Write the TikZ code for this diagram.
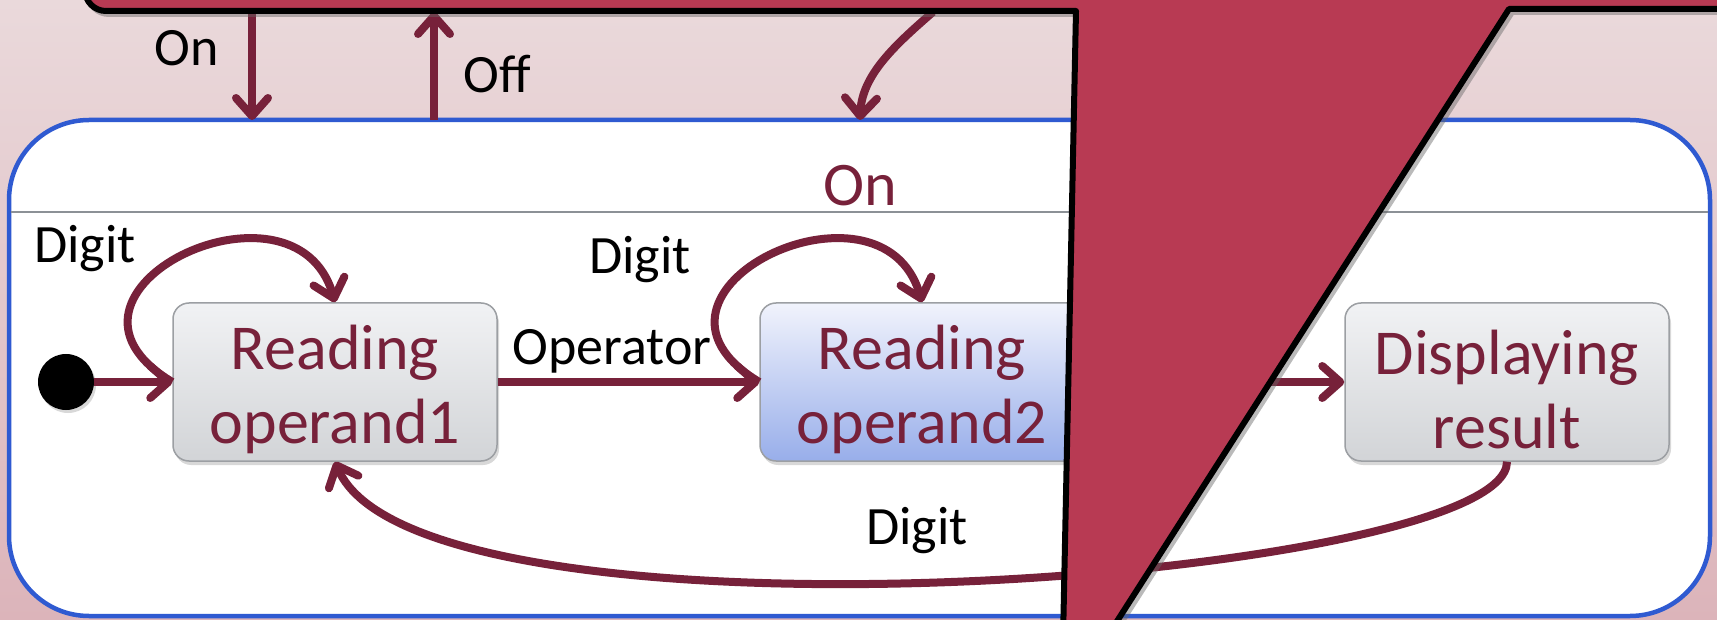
\documentclass[tikz,border=0pt]{standalone}
\usepackage{fontspec}
\setmainfont{Carlito}
\usetikzlibrary{arrows.meta,shadows,calc}
\definecolor{cMar}{HTML}{77213A}
\definecolor{cRed}{HTML}{B83A53}
\definecolor{cBlue}{HTML}{2F5AD1}
\definecolor{cSep}{HTML}{8C9196}
\definecolor{bgTop}{HTML}{EAD9DB}
\definecolor{bgBot}{HTML}{DCB4BA}
\definecolor{gTop}{HTML}{F1F2F4}
\definecolor{gBot}{HTML}{D2D4D7}
\definecolor{bTop}{HTML}{F1F3FC}
\definecolor{bBot}{HTML}{98AEEA}
\definecolor{cBoxBd}{HTML}{9C9FA3}
\newcommand{\stfont}{\fontsize{64}{74}\selectfont}
\newcommand{\ttlfont}{\fontsize{62}{74}\selectfont}
\newcommand{\lblfont}{\fontsize{54}{64}\selectfont}
\newcommand{\tstrut}{\rule{0pt}{60pt}}
\begin{document}
\begin{tikzpicture}[x=1pt,y=-1pt,
  trans/.style={draw=cMar, line width=8pt, -{Straight Barb[length=18pt,width=32pt,round]}},
  lbl/.style={font=\lblfont, text=black, anchor=base, inner sep=0pt},
  statebox/.style={draw=cBoxBd, line width=1.5pt, rounded corners=16pt, minimum width=324pt, minimum height=158pt, inner sep=0pt, align=center, text=cMar, font=\stfont, drop shadow={shadow xshift=2pt, shadow yshift=-4pt, opacity=0.3}},
  crackline/.style={line width=6pt, line join=round}]
\useasboundingbox (0,0) rectangle (1717,620);
\clip (0,0) rectangle (1717,620);
\shade[top color=bgTop, bottom color=bgBot] (0,0) rectangle (1717,620);
% composite state
\node[draw=cBlue, line width=4.5pt, fill=white, rounded corners=80pt, minimum width=1701pt, minimum height=496pt, inner sep=0pt, outer sep=0pt] (on) at (859.5,368) {};
\coordinate (sepL) at (11,212);
\coordinate (sepR) at (1708,212);
\draw[cSep, line width=2pt] (sepL) -- (sepR);
\node[font=\ttlfont, text=cMar, anchor=base, inner sep=0pt] (ontitle) at (860,206) {On};
% states
\node[circle, fill=black, minimum size=56pt, inner sep=0pt, drop shadow={shadow xshift=2pt, shadow yshift=-3pt, opacity=0.3}] (init) at (66,382) {};
\node[statebox, top color=gTop, bottom color=gBot] (r1) at (335,382) {\tstrut Reading\\operand1};
\node[statebox, top color=bTop, bottom color=bBot] (r2) at (922,382) {\tstrut Reading\\operand2};
\node[statebox, top color=gTop, bottom color=gBot] (r3) at (1507,382) {\tstrut Displaying\\result};
% transitions
\coordinate (onsrc) at (252,12);
\coordinate (onend) at (252,120);
\coordinate (offbeg) at (434,120);
\coordinate (offtgt) at (434,12);
\coordinate (topsrc) at (933,12);
\coordinate (toptgt) at (860,120);
\draw[trans] (onsrc) -- (onend);
\draw[trans] (offbeg) -- (offtgt);
\draw[trans] (topsrc) .. controls (895,45) and (862,75) .. (toptgt);
\draw[trans] (init.east) -- (r1.west);
\draw[trans] (r1.east) -- (r2.west);
\draw[trans] (r2.east) -- (r3.west);
\draw[trans] (r1.west) .. controls ($(r1.west)+(-150,-90)$) and ($(r1.north)+(-40,-140)$) .. (r1.north);
\draw[trans] (r2.west) .. controls ($(r2.west)+(-150,-90)$) and ($(r2.north)+(-40,-140)$) .. (r2.north);
\draw[trans] (r3.south) .. controls ($(r3.south)+(0,119)$) and ($(r1.south)+(85,199)$) .. (r1.south);
% labels
\node[lbl] (lOn) at (187,66) {On};
\node[lbl] (lOff) at (497,93) {Off};
\node[lbl] (lD1) at (85,263) {Digit};
\node[lbl] (lD2) at (640,274) {Digit};
\node[lbl] (lOp) at (612,365) {Operator};
\node[lbl] (lD3) at (917,544) {Digit};
% crack
\def\crackpath{(85,-40) -- (85,-10) arc[start angle=180, end angle=90, radius=21] -- (1076,11) -- (1063,640) -- (1105,640) -- (1509,9) -- (1740,9) -- (1740,-40) -- cycle}
\draw[black!60, opacity=0.45, crackline, xshift=3pt, yshift=-3pt] \crackpath;
\fill[cRed] \crackpath;
\draw[black, crackline] \crackpath;
\end{tikzpicture}
\end{document}
